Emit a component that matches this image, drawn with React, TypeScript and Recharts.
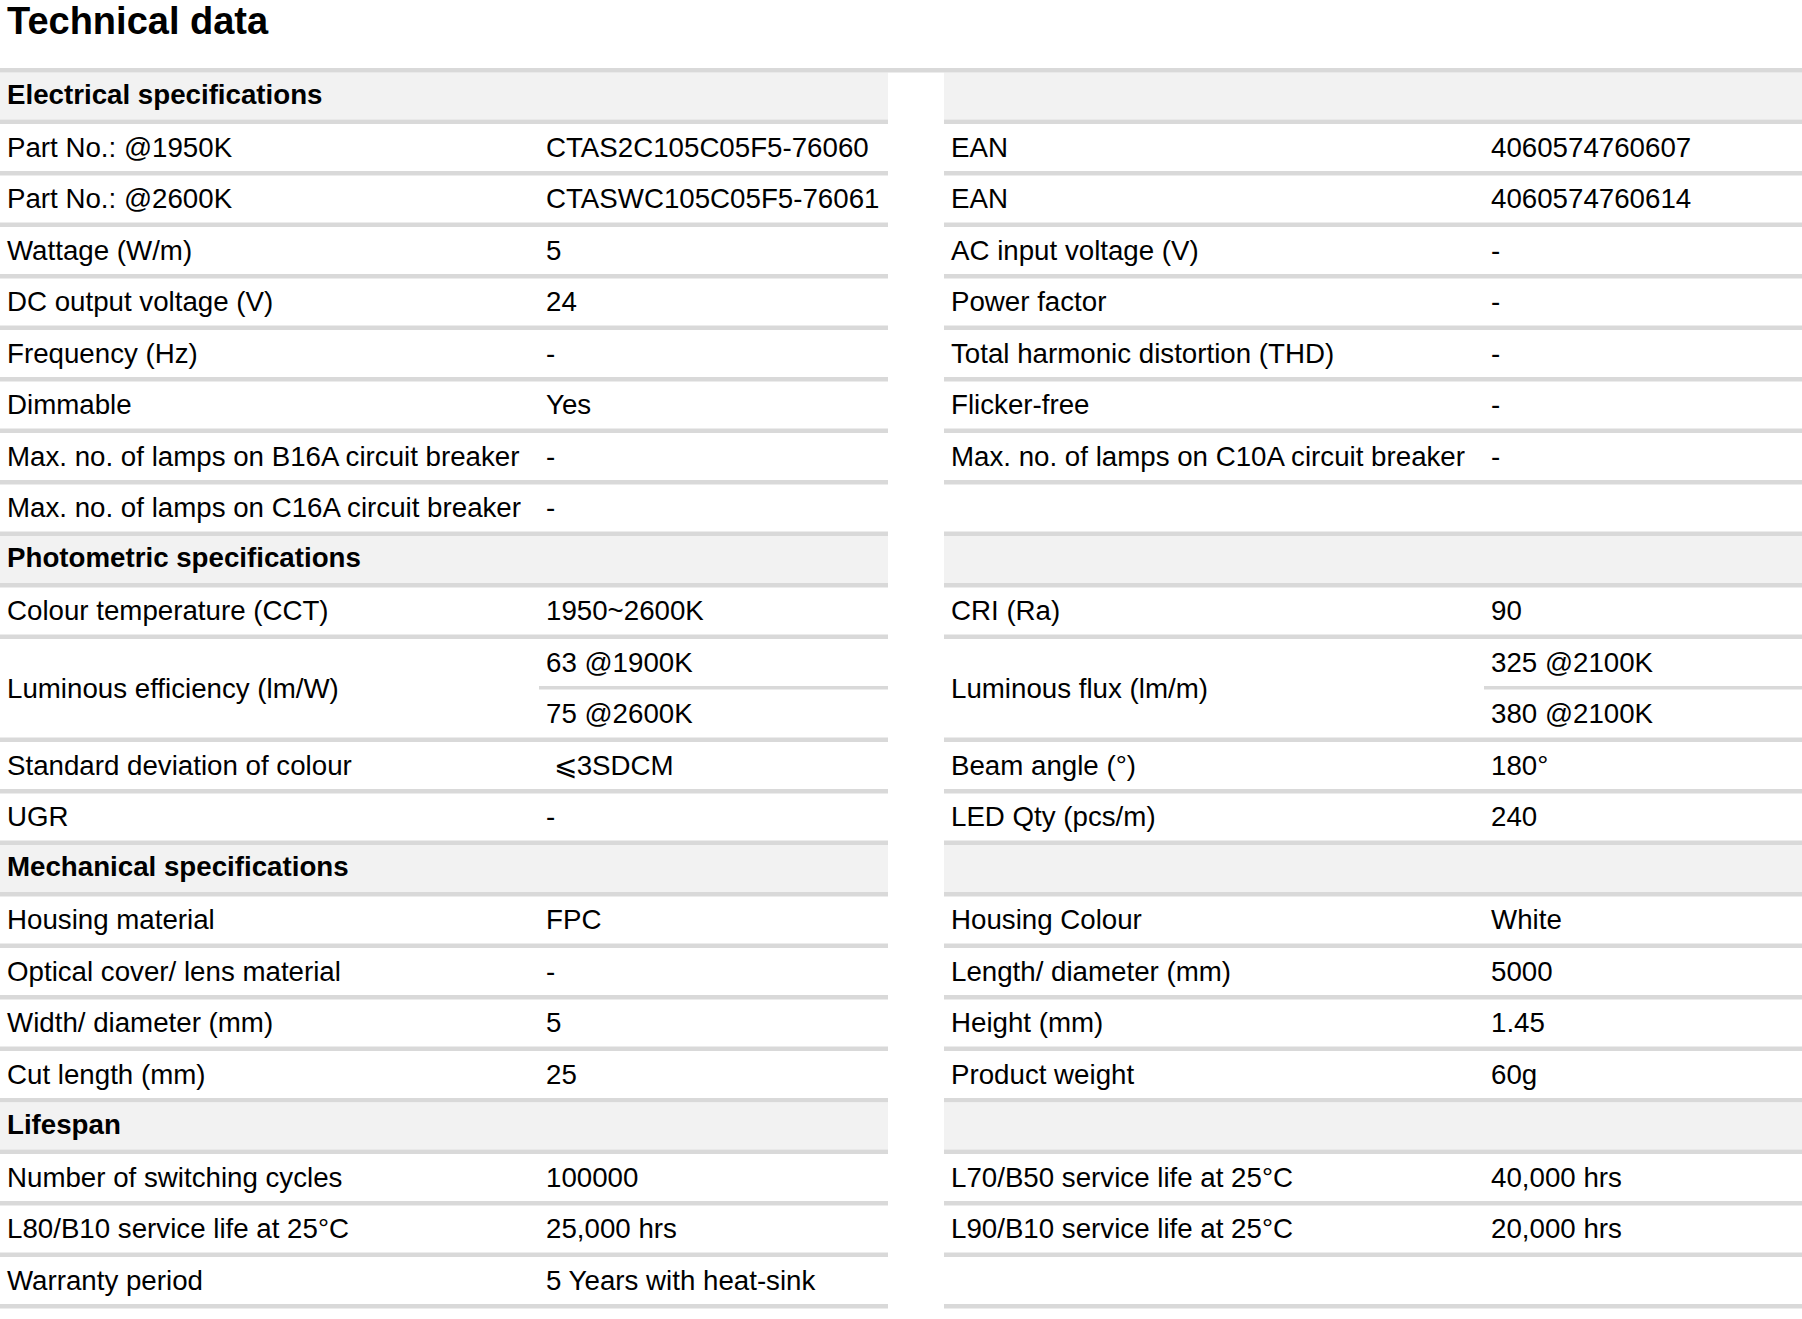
import { ScatterChart, Scatter, XAxis, YAxis, ReferenceArea } from 'recharts';

// Table content
const pageTitle = 'Technical data';
const sectionTitles = [
  'Electrical specifications',
  'Photometric specifications',
  'Mechanical specifications',
  'Lifespan',
];

const electricalLabelsL = [
  'Part No.: @1950K',
  'Part No.: @2600K',
  'Wattage (W/m)',
  'DC output voltage (V)',
  'Frequency (Hz)',
  'Dimmable',
  'Max. no. of lamps on B16A circuit breaker',
  'Max. no. of lamps on C16A circuit breaker',
];
const electricalValuesL = ['CTAS2C105C05F5-76060', 'CTASWC105C05F5-76061', '5', '24', '-', 'Yes', '-', '-'];
const electricalLabelsR = [
  'EAN',
  'EAN',
  'AC input voltage (V)',
  'Power factor',
  'Total harmonic distortion (THD)',
  'Flicker-free',
  'Max. no. of lamps on C10A circuit breaker',
  '',
];
const electricalValuesR = ['4060574760607', '4060574760614', '-', '-', '-', '-', '-', ''];

const photometricLabelsL = ['Colour temperature (CCT)', 'Luminous efficiency (lm/W)', 'Standard deviation of colour', 'UGR'];
const photometricValuesL = [['1950~2600K'], ['63 @1900K', '75 @2600K'], ['\u00a0\u2A7D3SDCM'], ['-']];
const photometricLabelsR = ['CRI (Ra)', 'Luminous flux (lm/m)', 'Beam angle (°)', 'LED Qty (pcs/m)'];
const photometricValuesR = [['90'], ['325 @2100K', '380 @2100K'], ['180°'], ['240']];

const mechanicalLabelsL = ['Housing material', 'Optical cover/ lens material', 'Width/ diameter (mm)', 'Cut length (mm)'];
const mechanicalValuesL = ['FPC', '-', '5', '25'];
const mechanicalLabelsR = ['Housing Colour', 'Length/ diameter (mm)', 'Height (mm)', 'Product weight'];
const mechanicalValuesR = ['White', '5000', '1.45', '60g'];

const lifespanLabelsL = ['Number of switching cycles', 'L80/B10 service life at 25°C', 'Warranty period'];
const lifespanValuesL = ['100000', '25,000 hrs', '5 Years with heat-sink'];
const lifespanLabelsR = ['L70/B50 service life at 25°C', 'L90/B10 service life at 25°C', ''];
const lifespanValuesR = ['40,000 hrs', '20,000 hrs', ''];

// Layout
const W = 1802;
const H = 1319;
const TOP = 68;
const PITCH = 51.5;
const LINE = 4.4;
const PAD = 7;
const FONT = '"Liberation Sans", Arial, Helvetica, sans-serif';
const LINE_COLOR = '#d9d9d9';
const HEAD_COLOR = '#f2f2f2';

const SIDES = [
  { x0: 0, xv: 539, x1: 888 },
  { x0: 944, xv: 1484, x1: 1802 },
];

type Cell = string | string[];
interface Section {
  title: string;
  sides: [string[], Cell[]][];
}

const sections: Section[] = [
  { title: sectionTitles[0], sides: [[electricalLabelsL, electricalValuesL], [electricalLabelsR, electricalValuesR]] },
  { title: sectionTitles[1], sides: [[photometricLabelsL, photometricValuesL], [photometricLabelsR, photometricValuesR]] },
  { title: sectionTitles[2], sides: [[mechanicalLabelsL, mechanicalValuesL], [mechanicalLabelsR, mechanicalValuesR]] },
  { title: sectionTitles[3], sides: [[lifespanLabelsL, lifespanValuesL], [lifespanLabelsR, lifespanValuesR]] },
];

const asList = (c: Cell) => (Array.isArray(c) ? c : [c]);

interface TextPoint {
  x: number;
  y: number;
  text: string;
  bold: boolean;
}
interface Band {
  x1: number;
  x2: number;
  y1: number;
  y2: number;
  fill: string;
}

// walk the sections and build text points + bands in row units
const texts: TextPoint[] = [];
const bands: Band[] = [];
const lineUnits = LINE / PITCH;
let row = 0;

sections.forEach((sec) => {
  SIDES.forEach((s) => {
    bands.push({ x1: s.x0, x2: s.x1, y1: row + lineUnits, y2: row + 1, fill: HEAD_COLOR });
    bands.push({ x1: s.x0, x2: s.x1, y1: row + 1, y2: row + 1 + lineUnits, fill: LINE_COLOR });
  });
  texts.push({ x: SIDES[0].x0 + PAD, y: row + 0.5, text: sec.title, bold: true });
  row += 1;

  const labels = sec.sides[0][0];
  labels.forEach((_, i) => {
    const span = Math.max(...sec.sides.map(([, vals]) => asList(vals[i]).length));
    sec.sides.forEach(([labs, vals], si) => {
      const s = SIDES[si];
      if (labs[i]) texts.push({ x: s.x0 + PAD, y: row + span / 2, text: labs[i], bold: false });
      asList(vals[i]).forEach((v, j) => {
        if (v) texts.push({ x: s.xv + PAD, y: row + j + 0.5, text: v, bold: false });
        if (j > 0) bands.push({ x1: s.xv, x2: s.x1, y1: row + j, y2: row + j + lineUnits * 0.8, fill: LINE_COLOR });
      });
      bands.push({ x1: s.x0, x2: s.x1, y1: row + span, y2: row + span + lineUnits, fill: LINE_COLOR });
    });
    row += span;
  });
});

const ROWS = row;
// top rule runs across both tables
bands.push({ x1: 0, x2: W, y1: 0, y2: lineUnits, fill: LINE_COLOR });

const CellText = (props: any) => {
  const { cx, cy, payload } = props;
  return (
    <text
      x={cx}
      y={cy + (payload.bold ? 10 : 11.5)}
      fontFamily={FONT}
      fontSize={27.7}
      fontWeight={payload.bold ? 700 : 400}
      fill="#000"
    >
      {payload.text}
    </text>
  );
};

export default function App() {
  return (
    <div style={{ position: 'absolute', left: 0, top: 0, width: W, height: H, background: '#fff' }}>
      <svg width={W} height={50} style={{ position: 'absolute', left: 0, top: 0 }}>
        <text x={PAD} y={34} fontFamily={FONT} fontSize={38} fontWeight={700} fill="#000">
          {pageTitle}
        </text>
      </svg>
      <div style={{ position: 'absolute', left: 0, top: 0 }}>
        <ScatterChart
          width={W}
          height={H}
          margin={{ top: TOP, right: 0, bottom: H - TOP - ROWS * PITCH, left: 0 }}
        >
          <XAxis type="number" dataKey="x" domain={[0, W]} hide />
          <YAxis type="number" dataKey="y" domain={[0, ROWS]} reversed hide />
          {bands.map((b, i) => (
            <ReferenceArea
              key={i}
              x1={b.x1}
              x2={b.x2}
              y1={b.y1}
              y2={b.y2}
              fill={b.fill}
              fillOpacity={1}
              stroke="none"
              ifOverflow="visible"
            />
          ))}
          <Scatter data={texts} shape={<CellText />} isAnimationActive={false} />
        </ScatterChart>
      </div>
    </div>
  );
}
